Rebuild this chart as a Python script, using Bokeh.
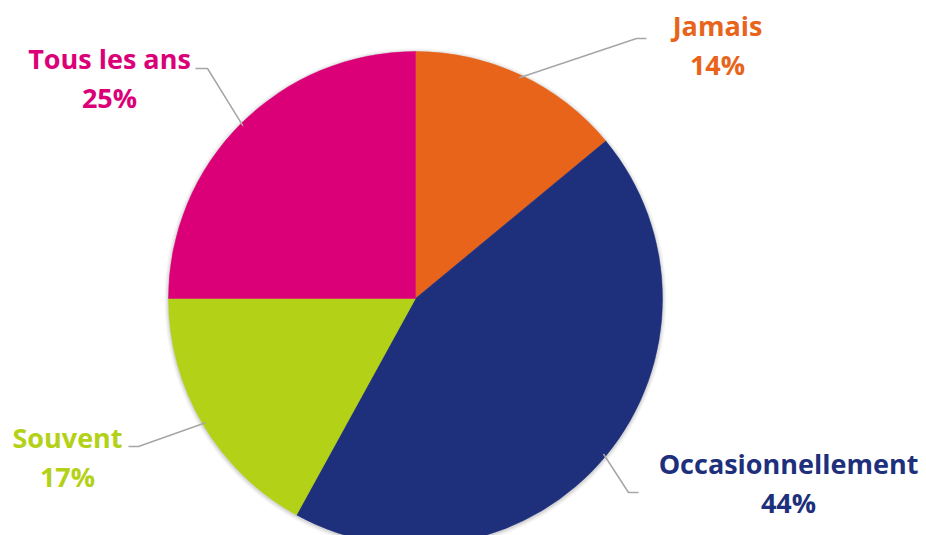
import numpy as np
from bokeh.plotting import figure
from bokeh.models import Range1d, ColumnDataSource
from bokeh.core.properties import value
from bokeh.embed import file_html
from bokeh.resources import INLINE

# ---- data ----
categories = ["Jamais", "Occasionnellement", "Souvent", "Tous les ans"]
percents = [14, 44, 17, 25]
colors = ["#E8641B", "#1E2F7B", "#B3D116", "#DB0077"]

# ---- layout (screen pixels) ----
W, H = 926, 535
CX, CY = 415, 298       # pie centre on the page
R = 247                 # pie radius in px
# label anchor (centre of first line baseline), relative to pie centre
label_off = [(302, -273), (373, 165), (-348, 139), (-306, -240)]
# leader elbow and end, relative to pie centre
elbow_off = [(221, -260), (213, 194), (-277, 148), (-208, -230)]
end_off = [(231, -260), (223, 194), (-287, 148), (-220, -230)]
LINE_GAP = 39


def sx(x):
    return x


def sy(y):
    return H - y


p = figure(width=W, height=H, output_backend="svg", toolbar_location=None,
           x_range=Range1d(0, W), y_range=Range1d(0, H),
           min_border=0, min_border_left=0, min_border_right=0,
           min_border_top=0, min_border_bottom=0)
p.axis.visible = False
p.grid.visible = False
p.outline_line_color = None
p.background_fill_color = "white"
p.border_fill_color = "white"

fr = np.array(percents, dtype=float) / sum(percents)
ang = fr * 2 * np.pi
start = np.pi / 2 - np.concatenate([[0.0], np.cumsum(ang)[:-1]])
end = start - ang
mid = (start + end) / 2

# soft shadow
for extra, a in [(4, 0.04), (2.5, 0.05), (1.2, 0.07)]:
    p.circle(x=[sx(CX)], y=[sy(CY + 1)], radius=R + extra, radius_units="screen",
             fill_color="black", fill_alpha=a, line_color=None)

src = ColumnDataSource(dict(x=[sx(CX)] * 4, y=[sy(CY)] * 4, start=start, end=end, color=colors))
p.wedge(x="x", y="y", radius=R, radius_units="screen", start_angle="start", end_angle="end",
        direction="clock", fill_color="color", line_color="color", line_width=0.5, source=src)

# leader lines
for i in range(4):
    ex = CX + (R - 3) * np.cos(mid[i])
    ey = CY - (R - 3) * np.sin(mid[i])
    xs = [ex, CX + elbow_off[i][0], CX + end_off[i][0]]
    ys = [ey, CY + elbow_off[i][1], CY + end_off[i][1]]
    p.line(x=[sx(v) for v in xs], y=[sy(v) for v in ys], line_color="#A6A6A6", line_width=1.5)

# labels
lx = [sx(CX + o[0]) for o in label_off]
ly1 = [sy(CY + o[1]) for o in label_off]
ly2 = [sy(CY + o[1] + LINE_GAP) for o in label_off]
pct = [f"{v}%" for v in percents]
lsrc = ColumnDataSource(dict(x=lx, y1=ly1, y2=ly2, name=categories, pct=pct, color=colors))
for ycol, tcol in [("y1", "name"), ("y2", "pct")]:
    p.text(x="x", y=ycol, text=tcol, source=lsrc, text_color="color",
           text_font=value("Open Sans"), text_font_style="bold", text_font_size="27px",
           text_align="center", text_baseline="alphabetic")

open("out.html", "w").write(file_html(p, INLINE))
